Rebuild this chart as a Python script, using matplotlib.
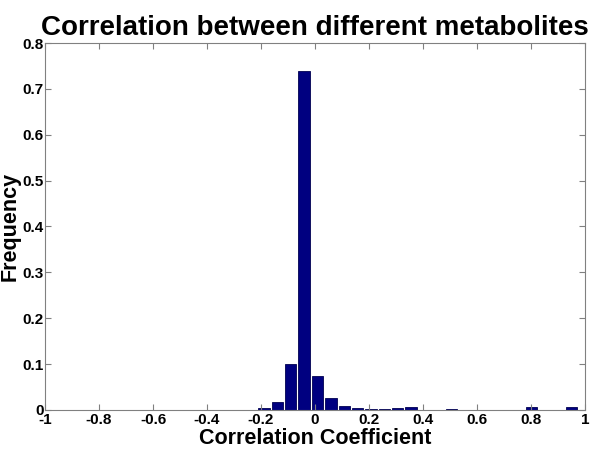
import numpy as np
import matplotlib.pyplot as plt

# bin centres of the histogram and relative frequencies
bin_start = -0.189
bin_step = 0.0496
freq = [0.004, 0.017, 0.100, 0.738, 0.074, 0.026, 0.008, 0.004, 0.003,
        0.003, 0.004, 0.007, 0.0, 0.0, 0.003, 0.0, 0.0, 0.0, 0.0, 0.0,
        0.006, 0.0, 0.0, 0.006]
centres = bin_start + bin_step * np.arange(len(freq))

xticks = [-1, -0.8, -0.6, -0.4, -0.2, 0, 0.2, 0.4, 0.6, 0.8, 1]
xticklabels = ['-1', '-0.8', '-0.6', '-0.4', '-0.2', '0', '0.2', '0.4', '0.6', '0.8', '1']
yticks = [0, 0.1, 0.2, 0.3, 0.4, 0.5, 0.6, 0.7, 0.8]
yticklabels = ['0', '0.1', '0.2', '0.3', '0.4', '0.5', '0.6', '0.7', '0.8']

plt.rcParams['font.family'] = ['Liberation Sans', 'DejaVu Sans']

fig = plt.figure(figsize=(6.01, 4.53), dpi=100)
ax = fig.add_axes([0.075, 0.095, 0.898, 0.81])

ax.bar(centres, freq, width=bin_step * 0.85, color='#000080',
       edgecolor='#000050', linewidth=0.6)

ax.set_xlim(-1, 1)
ax.set_ylim(0, 0.8)
ax.set_xticks(xticks)
ax.set_xticklabels(xticklabels, fontsize=11, fontweight='bold')
ax.set_yticks(yticks)
ax.set_yticklabels(yticklabels, fontsize=11, fontweight='bold')
ax.tick_params(direction='in', top=True, right=True, length=4,
               color='#808080')
ax.tick_params(axis='x', pad=2)
ax.tick_params(axis='y', pad=1)
for s in ax.spines.values():
    s.set_color('#808080')
    s.set_linewidth(0.8)

ax.set_xlabel('Correlation Coefficient', fontsize=15.5, fontweight='bold', labelpad=1)
ax.set_ylabel('Frequency', fontsize=15.5, fontweight='bold', labelpad=1)
ax.set_title('Correlation between different metabolites', fontsize=20,
             fontweight='bold', pad=6)

fig.savefig('out.png', dpi=100)
